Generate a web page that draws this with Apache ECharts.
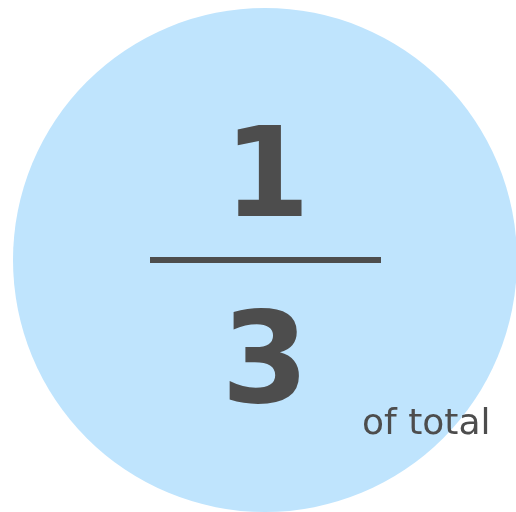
<!DOCTYPE html>
<html>
<head>
<meta charset="utf-8">
<script src="https://cdn.jsdelivr.net/npm/echarts@6/dist/echarts.min.js"></script>
<style>
  html, body { margin: 0; padding: 0; background: #fff; }
</style>
</head>
<body>
<div id="main" style="width: 516px;height:512px;"></div>
<script>
  // fraction shown in the bubble
  const numerator = [1];
  const denominator = [3];
  const caption = ['of total'];

  const textColor = '#4d4d4d';
  let myChart = echarts.init(document.getElementById('main'));

  let option = {
    animation: false,
    series: [
      {
        type: 'pie',
        center: [265, 260],
        radius: [0, 252],
        silent: true,
        z: 1,
        label: { show: false },
        labelLine: { show: false },
        itemStyle: { color: '#bfe4fd' },
        data: [{ value: numerator[0] / denominator[0], name: 'share' }]
      }
    ],
    graphic: {
      elements: [
        {
          type: 'text',
          z: 100,
          x: 267, y: 184,
          style: {
            text: String(numerator[0]),
            font: 'bold 124px "DejaVu Sans"',
            fill: textColor,
            align: 'center',
            verticalAlign: 'middle'
          }
        },
        {
          type: 'rect',
          z: 100,
          shape: { x: 150, y: 257, width: 231, height: 6 },
          style: { fill: textColor }
        },
        {
          type: 'text',
          z: 100,
          x: 265, y: 369,
          style: {
            text: String(denominator[0]),
            font: 'bold 126px "DejaVu Sans"',
            fill: textColor,
            align: 'center',
            verticalAlign: 'middle'
          }
        },
        {
          type: 'text',
          z: 100,
          x: 362, y: 425,
          style: {
            text: caption[0],
            font: '36px "DejaVu Sans"',
            fill: textColor,
            align: 'left',
            verticalAlign: 'middle'
          }
        }
      ]
    }
  };
  myChart.setOption(option);
</script>
</body>
</html>
